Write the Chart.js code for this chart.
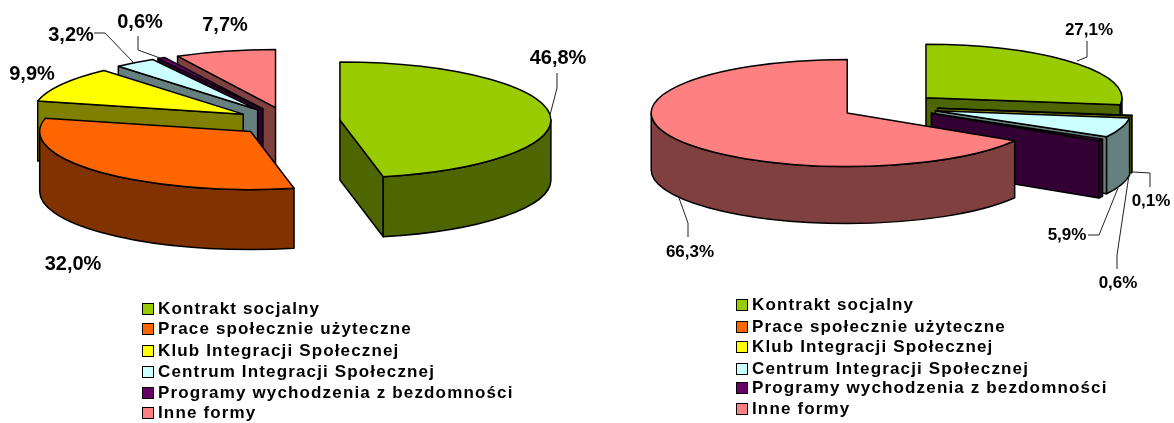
<!DOCTYPE html>
<html>
<head>
<meta charset="utf-8">
<script src="https://cdn.jsdelivr.net/npm/chart.js@4/dist/chart.umd.js"></script>
<style>
  html, body { margin: 0; background: #fff; }
  #page { position: relative; width: 1174px; height: 423px; overflow: hidden; }
  canvas { position: absolute; top: 0; }
  .legend { position: absolute; font: bold 17px "Liberation Sans", Arial, sans-serif; color: #000; letter-spacing: 1.15px; }
  .legend div { position: absolute; left: 0; white-space: nowrap; line-height: 20px; }
  .legend i { position: absolute; left: -16px; top: 4px; width: 10px; height: 10px; border: 1.5px solid #000; }
</style>
</head>
<body>
<div id="page">
  <canvas id="left" width="587" height="423" style="left:0"></canvas>
  <canvas id="right" width="587" height="423" style="left:587px"></canvas>
  <div class="legend" id="legendLeft" style="left:158px;top:0"></div>
  <div class="legend" id="legendRight" style="left:752px;top:0"></div>
</div>
<script>
var categories = ['Kontrakt socjalny', 'Prace społecznie użyteczne', 'Klub Integracji Społecznej',
  'Centrum Integracji Społecznej', 'Programy wychodzenia z bezdomności', 'Inne formy'];
var valuesLeft = [46.8, 32.0, 9.9, 3.2, 0.6, 7.7];
var valuesRight = [27.1, 0, 0.1, 5.9, 0.6, 66.3];
var topColors = ['#99CC00', '#FF6600', '#FFFF00', '#CCFFFF', '#660066', '#FF8080'];
var wallColors = ['#4D6600', '#803300', '#808000', '#668080', '#330033', '#804040'];

// how each pie sits on the page, and where its labels go
var leftView = {
  left: 0, cx: 288, cy: 121.5, rx: 211, ry: 58, depth: 60, font: 'bold 20px "Liberation Sans", Arial, sans-serif',
  labels: [[558, 58], [73, 264], [32, 74], [71, 35], [140, 22], [225, 25]],
  leaders: [
    [[557, 73], [557, 88], [550, 115]], null, null,
    [[94, 33], [105, 33], [133, 62]],
    [[138, 36], [138, 50], [160, 58]], null
  ]
};
var rightView = {
  left: 587, cx: 889.5, cy: 106.5, rx: 196, ry: 53.5, depth: 57, font: 'bold 17px "Liberation Sans", Arial, sans-serif',
  labels: [[1089, 30], null, [1151, 201], [1067, 235], [1118, 283], [690, 252]],
  leaders: [
    [[1087, 41], [1087, 57], [1077, 61]], null,
    [[1133, 172], [1150, 173], [1150, 187]],
    [[1088, 235], [1099, 235], [1118, 188]],
    [[1117, 269], [1117, 255], [1129, 175]],
    [[688, 237], [688, 223], [679, 198]]
  ]
};
var legendRowsLeft = [309, 329, 351, 372, 393, 413];
var legendRowsRight = [305, 327, 347, 369, 388, 409];

var pie3d = {
  id: 'pie3d',
  beforeDatasetsDraw: function(chart, args, view) {
    var ctx = chart.ctx;
    var arcs = chart.getDatasetMeta(0).data.slice();
    var R = arcs[0].outerRadius;
    var sx = view.rx / R, sy = view.ry / R;

    function place(arc) {
      var mid = (arc.startAngle + arc.endAngle) / 2;
      var off = arc.options.offset / 4;
      return { x: view.cx + Math.cos(mid) * off * sx, y: view.cy + Math.sin(mid) * off * sy, mid: mid };
    }
    // back slices first, the big wrap-around slice last
    arcs.sort(function(a, b) {
      var bigA = a.endAngle - a.startAngle > Math.PI ? 1 : 0;
      var bigB = b.endAngle - b.startAngle > Math.PI ? 1 : 0;
      if (bigA !== bigB) return bigA - bigB;
      return place(a).y - place(b).y;
    });

    ctx.save();
    ctx.translate(-view.left, 0);
    ctx.lineWidth = 1.5;
    ctx.lineJoin = 'round';
    ctx.strokeStyle = '#000';
    arcs.forEach(function(arc) {
      if (arc.circumference === 0) return;
      var i = chart.getDatasetMeta(0).data.indexOf(arc);
      var p = place(arc);
      var s = arc.startAngle, e = arc.endAngle;
      ctx.fillStyle = wallColors[i];
      // flat cut faces, only when turned to the viewer
      [[s, s - Math.PI / 2], [e, e + Math.PI / 2]].forEach(function(face) {
        if (Math.sin(face[1]) <= 0.001) return;
        var x = p.x + Math.cos(face[0]) * view.rx, y = p.y + Math.sin(face[0]) * view.ry;
        ctx.beginPath();
        ctx.moveTo(p.x, p.y);
        ctx.lineTo(x, y);
        ctx.lineTo(x, y + view.depth);
        ctx.lineTo(p.x, p.y + view.depth);
        ctx.closePath();
        ctx.fill();
        ctx.stroke();
      });
      // outer rim, only the part that faces the front
      var a0 = Math.max(s, 0), a1 = Math.min(e, Math.PI);
      if (a1 > a0) {
        ctx.beginPath();
        ctx.ellipse(p.x, p.y, view.rx, view.ry, 0, a0, a1);
        ctx.ellipse(p.x, p.y + view.depth, view.rx, view.ry, 0, a1, a0, true);
        ctx.closePath();
        ctx.fill();
        ctx.stroke();
      }
      // top
      ctx.fillStyle = topColors[i];
      ctx.beginPath();
      ctx.moveTo(p.x, p.y);
      ctx.ellipse(p.x, p.y, view.rx, view.ry, 0, s, e);
      ctx.closePath();
      ctx.fill();
      ctx.stroke();
    });

    // leader lines and value labels
    ctx.lineWidth = 1;
    ctx.strokeStyle = '#222';
    view.leaders.forEach(function(l) {
      if (!l) return;
      ctx.beginPath();
      l.forEach(function(pt, k) { if (k) ctx.lineTo(pt[0], pt[1]); else ctx.moveTo(pt[0], pt[1]); });
      ctx.stroke();
    });
    ctx.fillStyle = '#000';
    ctx.font = view.font;
    ctx.textAlign = 'center';
    ctx.textBaseline = 'middle';
    chart.data.datasets[0].data.forEach(function(v, i) {
      if (!view.labels[i]) return;
      ctx.fillText(v.toFixed(1).replace('.', ',') + '%', view.labels[i][0], view.labels[i][1]);
    });
    ctx.restore();
    return false;
  }
};

function makePie(id, values, view) {
  return new Chart(document.getElementById(id), {
    type: 'pie',
    data: {
      labels: categories,
      datasets: [{ data: values, backgroundColor: topColors, offset: 140, borderWidth: 0 }]
    },
    options: {
      responsive: false,
      animation: false,
      events: [],
      plugins: { legend: { display: false }, tooltip: { enabled: false }, pie3d: view }
    },
    plugins: [pie3d]
  });
}

function makeLegend(id, rows) {
  var box = document.getElementById(id);
  categories.forEach(function(name, i) {
    var row = document.createElement('div');
    row.style.top = (rows[i] - 10) + 'px';
    row.innerHTML = '<i style="background:' + topColors[i] + '"></i>' + name;
    box.appendChild(row);
  });
}

makePie('left', valuesLeft, leftView);
makePie('right', valuesRight, rightView);
makeLegend('legendLeft', legendRowsLeft);
makeLegend('legendRight', legendRowsRight);
</script>
</body>
</html>
